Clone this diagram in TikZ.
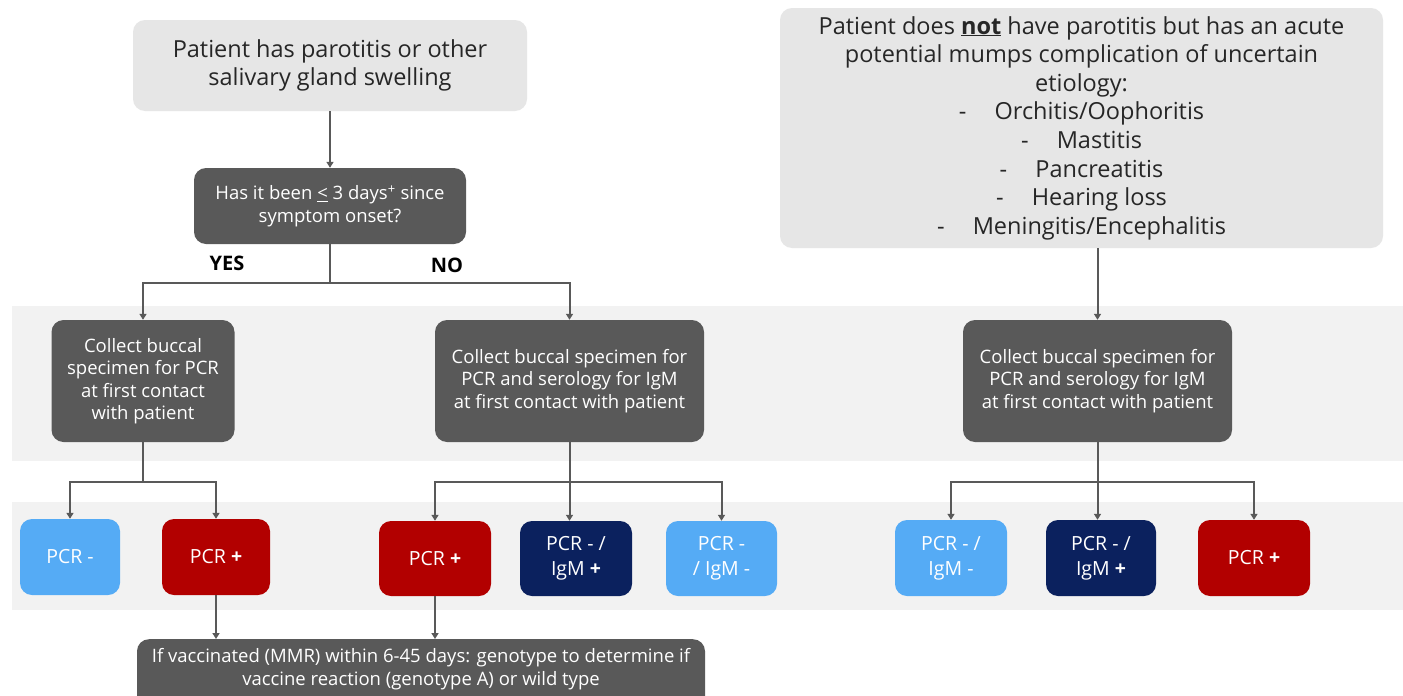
\documentclass[tikz,border=0pt]{standalone}
\usepackage{fontspec}
\setmainfont{Open Sans}
\usetikzlibrary{arrows.meta,calc}
\definecolor{darkbox}{HTML}{595959}
\definecolor{lightbox}{HTML}{E6E6E6}
\definecolor{band}{HTML}{F2F2F2}
\definecolor{lblue}{HTML}{55ABF5}
\definecolor{navy}{HTML}{0B215E}
\definecolor{redbox}{HTML}{B20000}
\definecolor{txt}{HTML}{262626}
\begin{document}
\begin{tikzpicture}[x=1pt,y=-1pt,
  box/.style={rectangle,rounded corners=12pt,inner sep=0pt,align=center},
  lightnode/.style={box,fill=lightbox,text=txt,font=\fontsize{23.5}{28.6}\selectfont},
  darknode/.style={box,fill=darkbox,text=white,font=\fontsize{18.5}{22.5}\selectfont},
  resnode/.style={box,text=white,font=\fontsize{19.5}{25}\selectfont,minimum height=76pt},
  conn/.style={draw=darkbox,line width=2pt},
  arr/.style={conn,-{Triangle[width=7pt,length=6pt]}},
  lab/.style={font=\fontsize{20}{22}\selectfont\bfseries,text=black}]
\useasboundingbox (0,0) rectangle (1403,696);
\fill[white] (0,0) rectangle (1403,696);
% bands
\fill[band] (12,306) rectangle (1403,461);
\fill[band] (12,502) rectangle (1403,610);
% top left
\node[lightnode,minimum width=394pt,minimum height=91pt] (A) at (330,65.5)
  {Patient has parotitis or other\\salivary gland swelling};
\node[darknode,minimum width=272pt,minimum height=76pt] (D) at (330,206)
  {Has it been \underline{<} 3 days\textsuperscript{+} since\\symptom onset?};
\node[darknode,minimum width=183pt,minimum height=122pt] (Lc) at (143,381)
  {Collect buccal\\specimen for PCR\\at first contact\\with patient};
\node[darknode,minimum width=269pt,minimum height=122pt] (Mc) at (569.5,381)
  {Collect buccal specimen for\\PCR and serology for IgM\\at first contact with patient};
% right top
\node[lightnode,minimum width=603pt,minimum height=240pt] (R) at (1081.5,128)
  {Patient does \textbf{\underline{not}} have parotitis but has an acute\\
   potential mumps complication of uncertain\\etiology:\\
   -\hspace{1.2em}Orchitis/Oophoritis\\
   -\hspace{1.2em}Mastitis\\
   -\hspace{1.2em}Pancreatitis\\
   -\hspace{1.2em}Hearing loss\\
   -\hspace{1.2em}Meningitis/Encephalitis};
\node[darknode,minimum width=269pt,minimum height=122pt] (Rc) at (1097.5,381)
  {Collect buccal specimen for\\PCR and serology for IgM\\at first contact with patient};
% results
\node[resnode,fill=lblue,minimum width=100pt] (l1) at (70,557) {PCR -};
\node[resnode,fill=redbox,minimum width=108pt] (l2) at (216,557) {PCR \textbf{+}};
\node[resnode,fill=redbox,minimum width=112pt,minimum height=75pt] (m1) at (435,558.5) {PCR \textbf{+}};
\node[resnode,fill=navy,minimum width=112pt,minimum height=75pt] (m2) at (576,558.5) {PCR - /\\IgM \textbf{+}};
\node[resnode,fill=lblue,minimum width=111pt,minimum height=75pt] (m3) at (721.5,558.5) {PCR -\\/ IgM -};
\node[resnode,fill=lblue,minimum width=112pt] (r1) at (951,558) {PCR - /\\IgM -};
\node[resnode,fill=navy,minimum width=110pt] (r2) at (1101,558) {PCR - /\\IgM \textbf{+}};
\node[resnode,fill=redbox,minimum width=112pt] (r3) at (1254,558) {PCR \textbf{+}};
% bottom
\node[darknode,minimum width=568pt,minimum height=71pt,anchor=north] (B) at (421,639) {};
\node[font=\fontsize{18.5}{23}\selectfont,text=white,align=center] (Bt) at (421,669)
  {If vaccinated (MMR) within 6-45 days: genotype to determine if\\vaccine reaction (genotype A) or wild type};
% labels
\node[lab] (yes) at (227,263) {YES};
\node[lab] (no) at (447,265) {NO};
% connectors
\draw[arr] (A) -- (D);
\draw[conn] (D.south) -- ++(0,39) coordinate (dj);
\draw[arr] (dj) -| (Lc.north);
\draw[arr] (dj) -| (Mc.north);
\draw[arr] (Rc.north |- R.south) -- (Rc.north);
\draw[conn] (Lc.south) -- ++(0,40) coordinate (lj);
\draw[arr] (lj) -| (l1.north);
\draw[arr] (lj) -| (l2.north);
\draw[conn] (Mc.south) -- ++(0,40) coordinate (mj);
\draw[arr] (mj) -| (m1.north);
\draw[arr] (mj) -- (mj |- m2.north);
\draw[arr] (mj) -| (m3.north);
\draw[conn] (Rc.south) -- ++(0,40) coordinate (rj);
\draw[arr] (rj) -| (r1.north);
\draw[arr] (rj) -- (rj |- r2.north);
\draw[arr] (rj) -| (r3.north);
\draw[arr] (l2.south) -- (l2.south |- B.north);
\draw[arr] (m1.south) -- (m1.south |- B.north);
\end{tikzpicture}
\end{document}
